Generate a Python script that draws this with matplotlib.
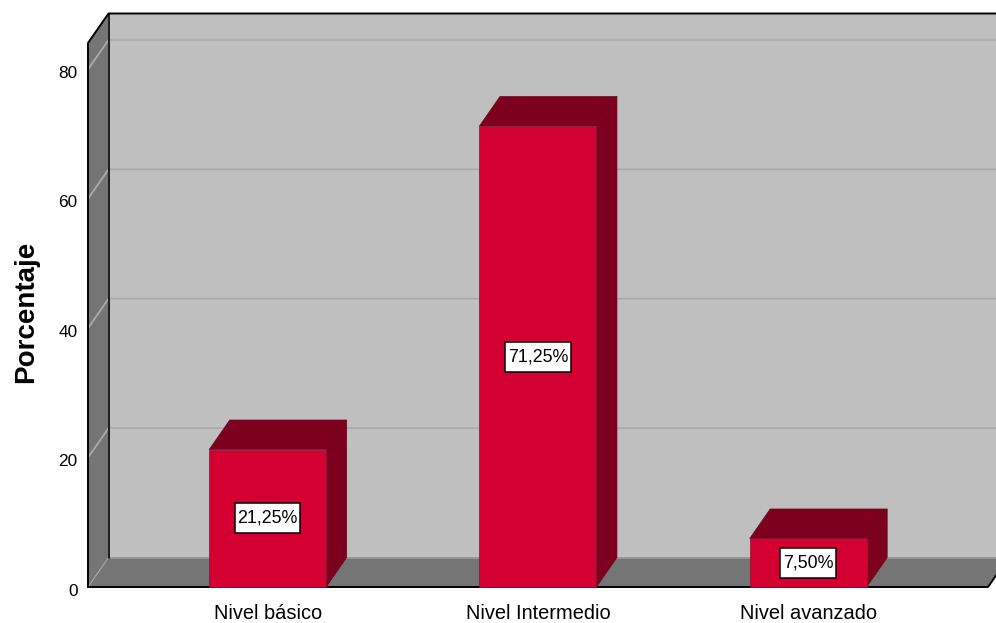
import matplotlib; matplotlib.use("Agg"); import matplotlib.pyplot as plt
from matplotlib.patches import Polygon, Rectangle
from matplotlib.transforms import ScaledTranslation

categorias = ["Nivel básico", "Nivel Intermedio", "Nivel avanzado"]
porcentajes = [21.25, 71.25, 7.50]
etiquetas = ["21,25%", "71,25%", "7,50%"]
yticks = [0, 20, 40, 60, 80]

W, H = 996, 623
plt.rcParams['font.family'] = ['Liberation Sans', 'DejaVu Sans']
fig = plt.figure(figsize=(W/100, H/100), dpi=100, facecolor="white")
# axes = plano frontal del "cubo" 3D de SPSS
L, R, T, B = 88, 988, 43, 587
ax = fig.add_axes([L/W, 1 - B/H, (R - L)/W, (B - T)/H])
px_x = 270.25; px_y = 6.47
x0 = (L - 267.7) / px_x; x1 = (R - 267.7) / px_x; ytop = (B - T) / px_y
ax.set_xlim(x0, x1); ax.set_ylim(0, ytop)
dx = 20.5 / px_x; dy = 29.5 / px_y; bw = 117 / px_x  # profundidad y ancho en unidades de datos
for s in ax.spines.values(): s.set_visible(False)
ax.patch.set_visible(False)

def poly(pts, fc, ec="none", lw=0, z=1):
    ax.add_patch(Polygon(pts, closed=True, fc=fc, ec=ec, lw=lw, zorder=z, clip_on=False))
def seg(xs, ys, c, lw, z=2):
    ax.plot(xs, ys, color=c, lw=lw, zorder=z, clip_on=False, solid_capstyle="round")

# paredes y suelo
poly([(x0+dx, dy), (x1+dx, dy), (x1+dx, ytop+dy), (x0+dx, ytop+dy)], "#BFBFBF")
poly([(x0, 0), (x0+dx, dy), (x0+dx, ytop+dy), (x0, ytop)], "#757575")
poly([(x0, 0), (x1, 0), (x1+dx, dy), (x0+dx, dy)], "#757575")
seg([x0+dx, x1+dx], [dy, dy], "#9A9A9A", 1.2)
seg([x0, x0+dx], [0, dy], "#A8A8A8", 0.8)
for v in yticks[1:]:
    seg([x0, x0+dx, x1+dx], [v, v+dy, v+dy], "#ABABAB", 1.3)
seg([x0+dx, x0+dx], [dy, ytop+dy], "black", 1.2, 3)
seg([x0, x0, x0+dx, x1+dx], [0, ytop, ytop+dy, ytop+dy], "black", 1.4, 3)
seg([x0, x1, x1+dx], [0, 0, dy], "black", 1.4, 3)

# barras
pos = list(range(len(categorias)))
ax.bar(pos, porcentajes, width=bw, color="#D50032", edgecolor="#8A1030", lw=0.5, zorder=5, clip_on=False)
for i, v in zip(pos, porcentajes):
    a, b = i - bw/2, i + bw/2
    poly([(a, v), (b, v), (b+dx, v+dy), (a+dx, v+dy)], "#7D001E", "#6A0A20", 0.5, 4)
    poly([(b, 0), (b+dx, dy), (b+dx, v+dy), (b, v)], "#7D001E", "#6A0A20", 0.5, 4)
# etiquetas: caja mas alta que el texto, como en el original
rend = fig.canvas.get_renderer()
for i, v, t in zip(pos, porcentajes, etiquetas):
    txt = ax.text(i, v/2, t, ha="center", va="center", fontsize=12.9, color="black", zorder=7)
    w = (txt.get_window_extent(rend).width + 5) / px_x; h = 30 / px_y
    ax.add_patch(Rectangle((i - w/2, v/2 - h/2), w, h, fc="white", ec="black", lw=1.1, zorder=6, clip_on=False))

ax.set_xticks(pos); ax.set_xticklabels(categorias, fontsize=14.4)
ax.set_yticks(yticks)
ax.tick_params(axis="both", length=0)
ax.tick_params(axis="x", pad=12)
ax.tick_params(axis="y", pad=7.5, labelsize=12.4)
off = ScaledTranslation(0, -2.5/100, fig.dpi_scale_trans)
for lab in ax.get_yticklabels(): lab.set_transform(lab.get_transform() + off)
fig.text(26/W, 1 - 312/H, "Porcentaje", rotation=90, ha="center", va="center", fontsize=20, fontweight="bold")

plt.savefig("out.png", dpi=100)
